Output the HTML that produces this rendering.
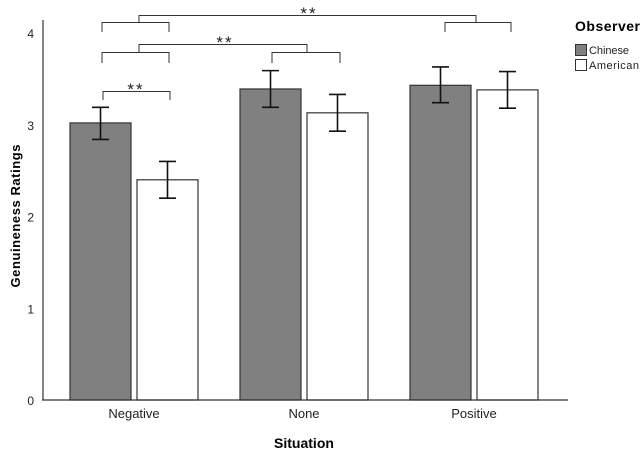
<!DOCTYPE html>
<html><head><meta charset="utf-8"><style>
html,body{margin:0;padding:0;background:#fff;}
svg{display:block;font-family:"Liberation Sans",Arial,sans-serif;}
</style></head><body>
<svg id="chart" width="643" height="453" viewBox="0 0 643 453">
  <g id="marks"></g>
  <g id="axes"></g>
  <g id="sig"></g>
  <g>
    <text x="575" y="31" font-size="14" font-weight="bold" fill="#000" textLength="65">Observer</text>
    <rect x="575.5" y="44.5" width="11" height="11" fill="#808080" stroke="#333"/>
    <text x="589" y="54" font-size="11" fill="#222" textLength="40">Chinese</text>
    <rect x="575.5" y="59.5" width="11" height="11" fill="#fff" stroke="#333"/>
    <text x="589" y="69" font-size="11" fill="#222" textLength="50">American</text>
  </g>
  <text x="304" y="448" font-size="14" font-weight="bold" text-anchor="middle">Situation</text>
  <text transform="translate(20,216) rotate(-90)" font-size="13" font-weight="bold" text-anchor="middle" textLength="143">Genuineness Ratings</text>
</svg>
<script>
const categories = ["Negative", "None", "Positive"];
const chineseValues = [3.02, 3.39, 3.43];
const chineseLow = [2.84, 3.19, 3.24];
const chineseHigh = [3.19, 3.59, 3.63];
const americanValues = [2.40, 3.13, 3.38];
const americanLow = [2.20, 2.93, 3.18];
const americanHigh = [2.60, 3.33, 3.58];
const yTicks = [0, 1, 2, 3, 4];

const NS = "http://www.w3.org/2000/svg";
const y0 = 400, pxPerUnit = 91.75;
function yScale(v){ return y0 - v * pxPerUnit; }
const groupCenters0 = 134, groupStep = 170;
function xCenter(i){ return groupCenters0 + i * groupStep; }
const barW = 61, gap = 6;
function mk(tag, attrs, parent){ const e = document.createElementNS(NS, tag); for (const k in attrs) e.setAttribute(k, attrs[k]); parent.appendChild(e); return e; }

const marks = document.getElementById("marks");
const axes = document.getElementById("axes");
const sig = document.getElementById("sig");

categories.forEach((c, i) => {
  const cx = xCenter(i);
  const series = [
    {v: chineseValues[i], lo: chineseLow[i], hi: chineseHigh[i], x: cx - gap/2 - barW, fill: "#808080", n: "chinese"},
    {v: americanValues[i], lo: americanLow[i], hi: americanHigh[i], x: cx + gap/2, fill: "#ffffff", n: "american"}
  ];
  series.forEach(s => {
    const r = mk("rect", {x: s.x, y: yScale(s.v), width: barW, height: y0 - yScale(s.v), fill: s.fill, stroke: "#333", "stroke-width": 1.2}, marks);
    
    
    const ex = s.x + barW / 2;
    const g = mk("g", {stroke: "#111", "stroke-width": 1.6}, marks);
    
    
    mk("line", {x1: ex, x2: ex, y1: yScale(s.lo), y2: yScale(s.hi)}, g);
    mk("line", {x1: ex - 8.5, x2: ex + 8.5, y1: yScale(s.lo), y2: yScale(s.lo)}, g);
    mk("line", {x1: ex - 8.5, x2: ex + 8.5, y1: yScale(s.hi), y2: yScale(s.hi)}, g);
  });
  const t = mk("text", {x: cx, y: 418, "font-size": 13, "text-anchor": "middle", fill: "#222"}, axes);
  t.textContent = c;
  
  
});

const yAxis = mk("line", {x1: 43, x2: 43, y1: yScale(0), y2: 20, stroke: "#333", "stroke-width": 1.2}, axes);


const xAxis = mk("line", {x1: 42, x2: 568, y1: y0, y2: y0, stroke: "#333", "stroke-width": 1.2}, axes);


yTicks.forEach(v => {
  const t = mk("text", {x: 34, y: yScale(v) + 5, "font-size": 12, "text-anchor": "end", fill: "#222"}, axes);
  t.textContent = v;
  
  
});

function bracket(x1, x2, yTop, yBot){
  const p = mk("path", {d: `M${x1},${yBot} V${yTop} H${x2} V${yBot}`, fill: "none", stroke: "#333", "stroke-width": 1}, sig);
  
  
}
function stars(x, y){
  const t = mk("text", {x: x, y: y, "font-size": 17, "text-anchor": "middle", "letter-spacing": "2", fill: "#222"}, sig);
  t.textContent = "**";
  
  
}
bracket(139, 476, 15.5, 22);
bracket(102, 169, 22.5, 32);
bracket(445, 511, 22.5, 32);
stars(309, 19);
bracket(139, 307, 44.5, 52);
bracket(102, 169, 52.5, 63);
bracket(272, 340, 52.5, 63);
stars(225, 48);
bracket(103, 170, 91.5, 100);
stars(136, 95);
</script>
</body></html>
